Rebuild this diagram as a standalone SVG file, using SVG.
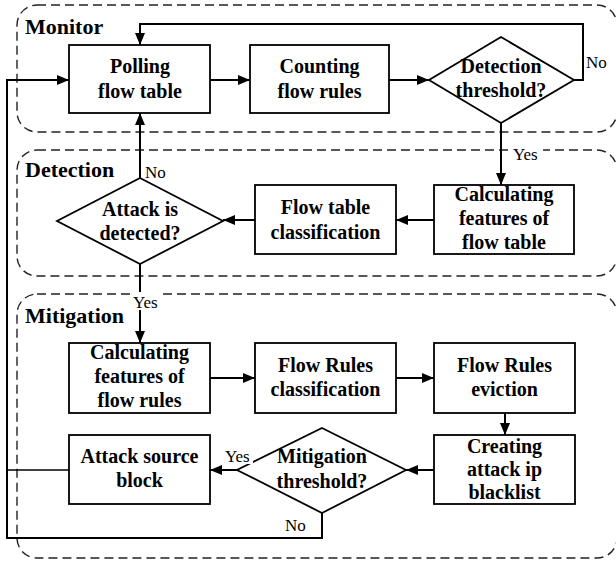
<svg xmlns="http://www.w3.org/2000/svg" width="616" height="561" viewBox="0 0 616 561">
  <style>
    .stage { fill: none; stroke: #222; stroke-width: 1.4; stroke-dasharray: 9 5; }
    .stage-title { font-family: "Liberation Serif", "Times New Roman", serif; font-weight: bold; font-size: 22px; fill: #000; }
    .box { fill: #fff; stroke: #000; stroke-width: 1.8; }
    .node-text { font-family: "Liberation Serif", "Times New Roman", serif; font-weight: bold; font-size: 20px; fill: #000; text-anchor: middle; }
    .edge { fill: none; stroke: #000; stroke-width: 2; }
    .edge-thin { fill: none; stroke: #000; stroke-width: 1.6; }
    .edge-label { font-family: "Liberation Serif", "Times New Roman", serif; font-size: 17px; fill: #000; }
    .mask { fill: #fff; stroke: none; }
  </style>
  <defs>
    <marker id="arrow" viewBox="0 0 12 10" refX="12" refY="5" markerWidth="12" markerHeight="10" markerUnits="userSpaceOnUse" orient="auto">
      <path d="M0,0 L12,5 L0,10 Z" fill="#000"/>
    </marker>
  </defs>

  <rect width="616" height="561" fill="#fff"/>

  <!-- stage frames -->
  <g id="stages">
    <rect class="stage" x="17" y="5" width="600" height="127" rx="20" ry="20"/>
    <rect class="stage" x="17" y="150" width="600" height="126" rx="20" ry="20"/>
    <rect class="stage" x="17" y="294" width="600" height="264" rx="20" ry="20"/>
    <text class="stage-title" x="25" y="34">Monitor</text>
    <text class="stage-title" x="25" y="177">Detection</text>
    <text class="stage-title" x="25" y="323">Mitigation</text>
  </g>

  <!-- connectors -->
  <g id="connectors">
    <polyline class="edge" points="574,80 583,80 583,24 140,24 140,45" marker-end="url(#arrow)"/>
    <line class="edge" x1="210" y1="80" x2="250" y2="80" marker-end="url(#arrow)"/>
    <line class="edge" x1="389" y1="80" x2="429" y2="80" marker-end="url(#arrow)"/>
    <line class="edge" x1="501" y1="123" x2="501" y2="185" marker-end="url(#arrow)"/>
    <line class="edge" x1="434" y1="220" x2="396" y2="220" marker-end="url(#arrow)"/>
    <line class="edge" x1="255" y1="220" x2="223" y2="220" marker-end="url(#arrow)"/>
    <line class="edge" x1="140" y1="178" x2="140" y2="113" marker-end="url(#arrow)"/>
    <line class="edge" x1="140" y1="264" x2="140" y2="343" marker-end="url(#arrow)"/>
    <line class="edge" x1="210" y1="378" x2="255" y2="378" marker-end="url(#arrow)"/>
    <line class="edge" x1="396" y1="378" x2="434" y2="378" marker-end="url(#arrow)"/>
    <line class="edge" x1="505" y1="413" x2="505" y2="435" marker-end="url(#arrow)"/>
    <line class="edge" x1="434" y1="470" x2="406" y2="470" marker-end="url(#arrow)"/>
    <line class="edge" x1="237" y1="470" x2="210" y2="470" marker-end="url(#arrow)"/>
    <line class="edge-thin" x1="69" y1="470" x2="7" y2="470"/>
    <polyline class="edge" points="322,513 322,538 7,538 7,80 69,80" marker-end="url(#arrow)"/>
  </g>

  <!-- monitor stage -->
  <g id="polling">
    <rect class="box" x="69" y="45" width="141" height="68"/>
    <text class="node-text" x="140" y="73">Polling</text>
    <text class="node-text" x="140" y="98">flow table</text>
  </g>
  <g id="counting">
    <rect class="box" x="250" y="45" width="139" height="68"/>
    <text class="node-text" x="319.5" y="73">Counting</text>
    <text class="node-text" x="319.5" y="98">flow rules</text>
  </g>
  <g id="detection-threshold">
    <polygon class="box" points="501,37 574,80 501,123 429,80"/>
    <text class="node-text" x="501" y="73">Detection</text>
    <text class="node-text" x="501" y="97">threshold?</text>
  </g>

  <!-- detection stage -->
  <g id="calc-table-features">
    <rect class="box" x="434" y="185" width="140" height="69"/>
    <text class="node-text" x="504" y="201">Calculating</text>
    <text class="node-text" x="504" y="225">features of</text>
    <text class="node-text" x="504" y="249">flow table</text>
  </g>
  <g id="table-classification">
    <rect class="box" x="255" y="185" width="141" height="69"/>
    <text class="node-text" x="325.5" y="214">Flow table</text>
    <text class="node-text" x="325.5" y="239">classification</text>
  </g>
  <g id="attack-detected">
    <polygon class="box" points="140,178 223,221 140,264 57,221"/>
    <text class="node-text" x="140" y="216">Attack is</text>
    <text class="node-text" x="140" y="240">detected?</text>
  </g>

  <!-- mitigation stage -->
  <g id="calc-rule-features">
    <rect class="box" x="69" y="343" width="141" height="70"/>
    <text class="node-text" x="139.5" y="359">Calculating</text>
    <text class="node-text" x="139.5" y="383">features of</text>
    <text class="node-text" x="139.5" y="407">flow rules</text>
  </g>
  <g id="rule-classification">
    <rect class="box" x="255" y="343" width="141" height="70"/>
    <text class="node-text" x="325.5" y="372">Flow Rules</text>
    <text class="node-text" x="325.5" y="396">classification</text>
  </g>
  <g id="rule-eviction">
    <rect class="box" x="434" y="343" width="141" height="70"/>
    <text class="node-text" x="504.5" y="372">Flow Rules</text>
    <text class="node-text" x="504.5" y="396">eviction</text>
  </g>
  <g id="ip-blacklist">
    <rect class="box" x="434" y="435" width="141" height="69"/>
    <text class="node-text" x="504.5" y="453">Creating</text>
    <text class="node-text" x="504.5" y="476">attack ip</text>
    <text class="node-text" x="504.5" y="499">blacklist</text>
  </g>
  <g id="mitigation-threshold">
    <polygon class="box" points="322,428 406,470 322,513 237,470"/>
    <text class="node-text" x="322" y="463">Mitigation</text>
    <text class="node-text" x="322" y="488">threshold?</text>
  </g>
  <g id="source-block">
    <rect class="box" x="69" y="435" width="141" height="69"/>
    <text class="node-text" x="139.5" y="463">Attack source</text>
    <text class="node-text" x="139.5" y="487">block</text>
  </g>

  <!-- branch labels -->
  <g id="edge-labels">
    <text class="edge-label" x="586" y="68">No</text>
    <rect class="mask" x="511" y="147" width="32" height="14"/>
    <text class="edge-label" x="513" y="160">Yes</text>
    <text class="edge-label" x="145" y="178">No</text>
    <rect class="mask" x="131" y="292" width="31" height="18"/>
    <text class="edge-label" x="133" y="308">Yes</text>
    <rect class="mask" x="224" y="448" width="29" height="16"/>
    <text class="edge-label" x="225" y="462">Yes</text>
    <text class="edge-label" x="285" y="531">No</text>
  </g>
</svg>
